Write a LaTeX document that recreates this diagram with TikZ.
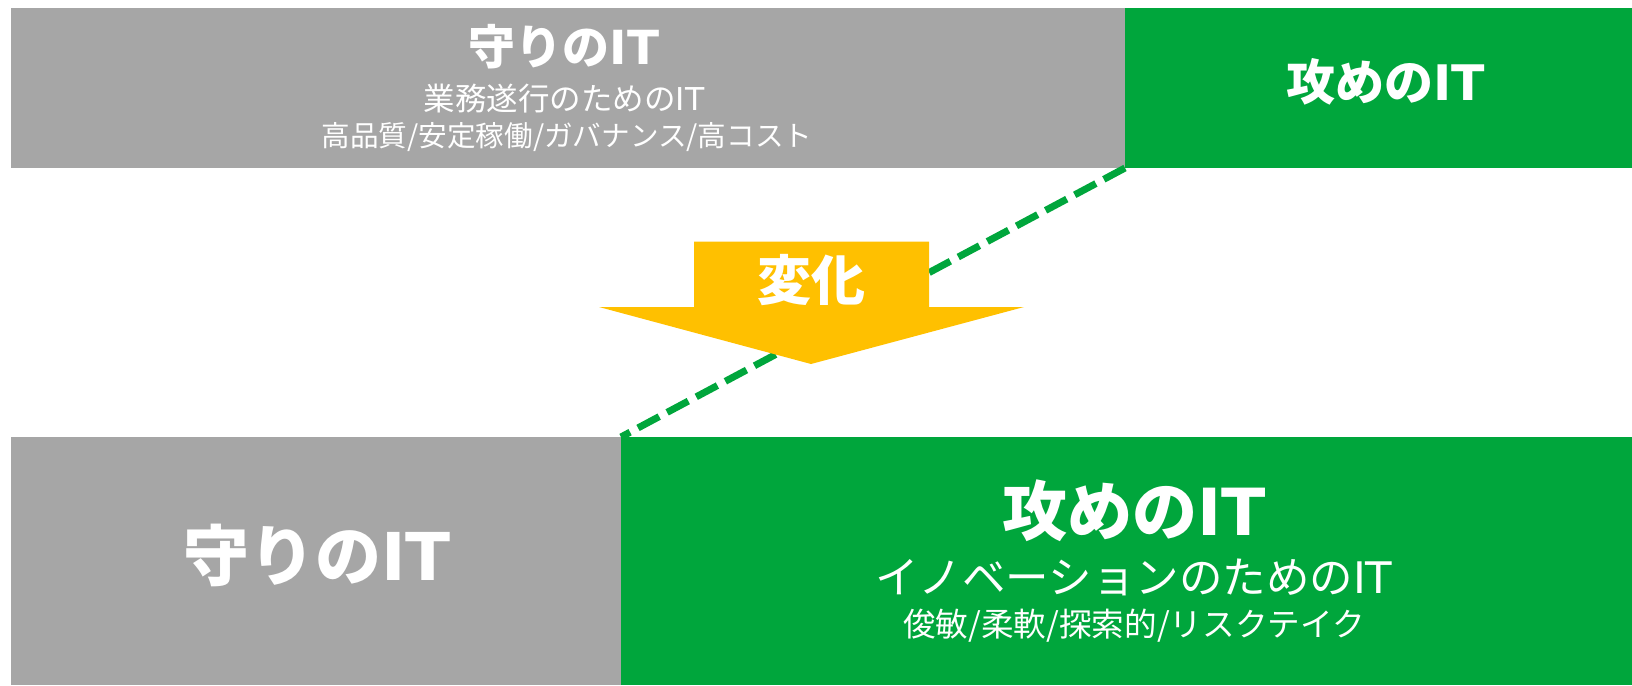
\documentclass[tikz,border=0pt]{standalone}
\usepackage{fontspec}
\setmainfont{DejaVu Sans}
\newfontfamily\jp{Noto Sans CJK JP}

\definecolor{mamori}{HTML}{A6A6A6}
\definecolor{seme}{HTML}{00A63C}
\definecolor{henka}{HTML}{FFC000}

\tikzset{
  title/.style={text=white, anchor=base, inner sep=0pt, font=\bfseries\fontsize{#1}{#1}\selectfont},
  sub/.style={text=white, anchor=base, inner sep=0pt, font=\fontsize{#1}{#1}\selectfont},
  split/.style={seme, line width=7pt, dash pattern=on 24pt off 9pt},
}

\begin{document}
\begin{tikzpicture}[x=1pt,y=-1pt]
\useasboundingbox (0,0) rectangle (1632,685);

% before
\fill[mamori] (10.5,8) rectangle (1125,168);
\fill[seme] (1125,8) rectangle (1632,168);
% after
\fill[mamori] (10.5,437) rectangle (621,685);
\fill[seme] (621,437) rectangle (1632,685);

\coordinate (topSplit) at (1125,168);
\coordinate (botSplit) at (621,437);
\draw[split] (topSplit) -- (botSplit);

% arrow
\fill[henka] (694,241.5) -- (929,241.5) -- (929,307) -- (1024,307)
  -- (811,364) -- (599,307) -- (694,307) -- cycle;
\node[title=54] (henkaText) at (811.5,300.5) {\jp 変化};

\node[title=47] (mamoriTop) at (564,64) {{\jp 守りの}IT};
\node[sub=31.5] (mamoriSub) at (564,110) {{\jp 業務遂行のための}IT};
\node[sub=28.6] (mamoriKey) at (567,146) {\jp 高品質/安定稼働/ガバナンス/高コスト};

\node[title=49] (semeTop) at (1386,100.5) {{\jp 攻めの}IT};

\node[title=66] (mamoriBot) at (317,580) {{\jp 守りの}IT};

\node[title=65] (semeBot) at (1134.5,535) {{\jp 攻めの}IT};
\node[sub=43.5] (semeSub) at (1134,593) {{\jp イノベーションのための}IT};
\node[sub=32.6] (semeKey) at (1134,636.5) {\jp 俊敏/柔軟/探索的/リスクテイク};
\end{tikzpicture}
\end{document}
